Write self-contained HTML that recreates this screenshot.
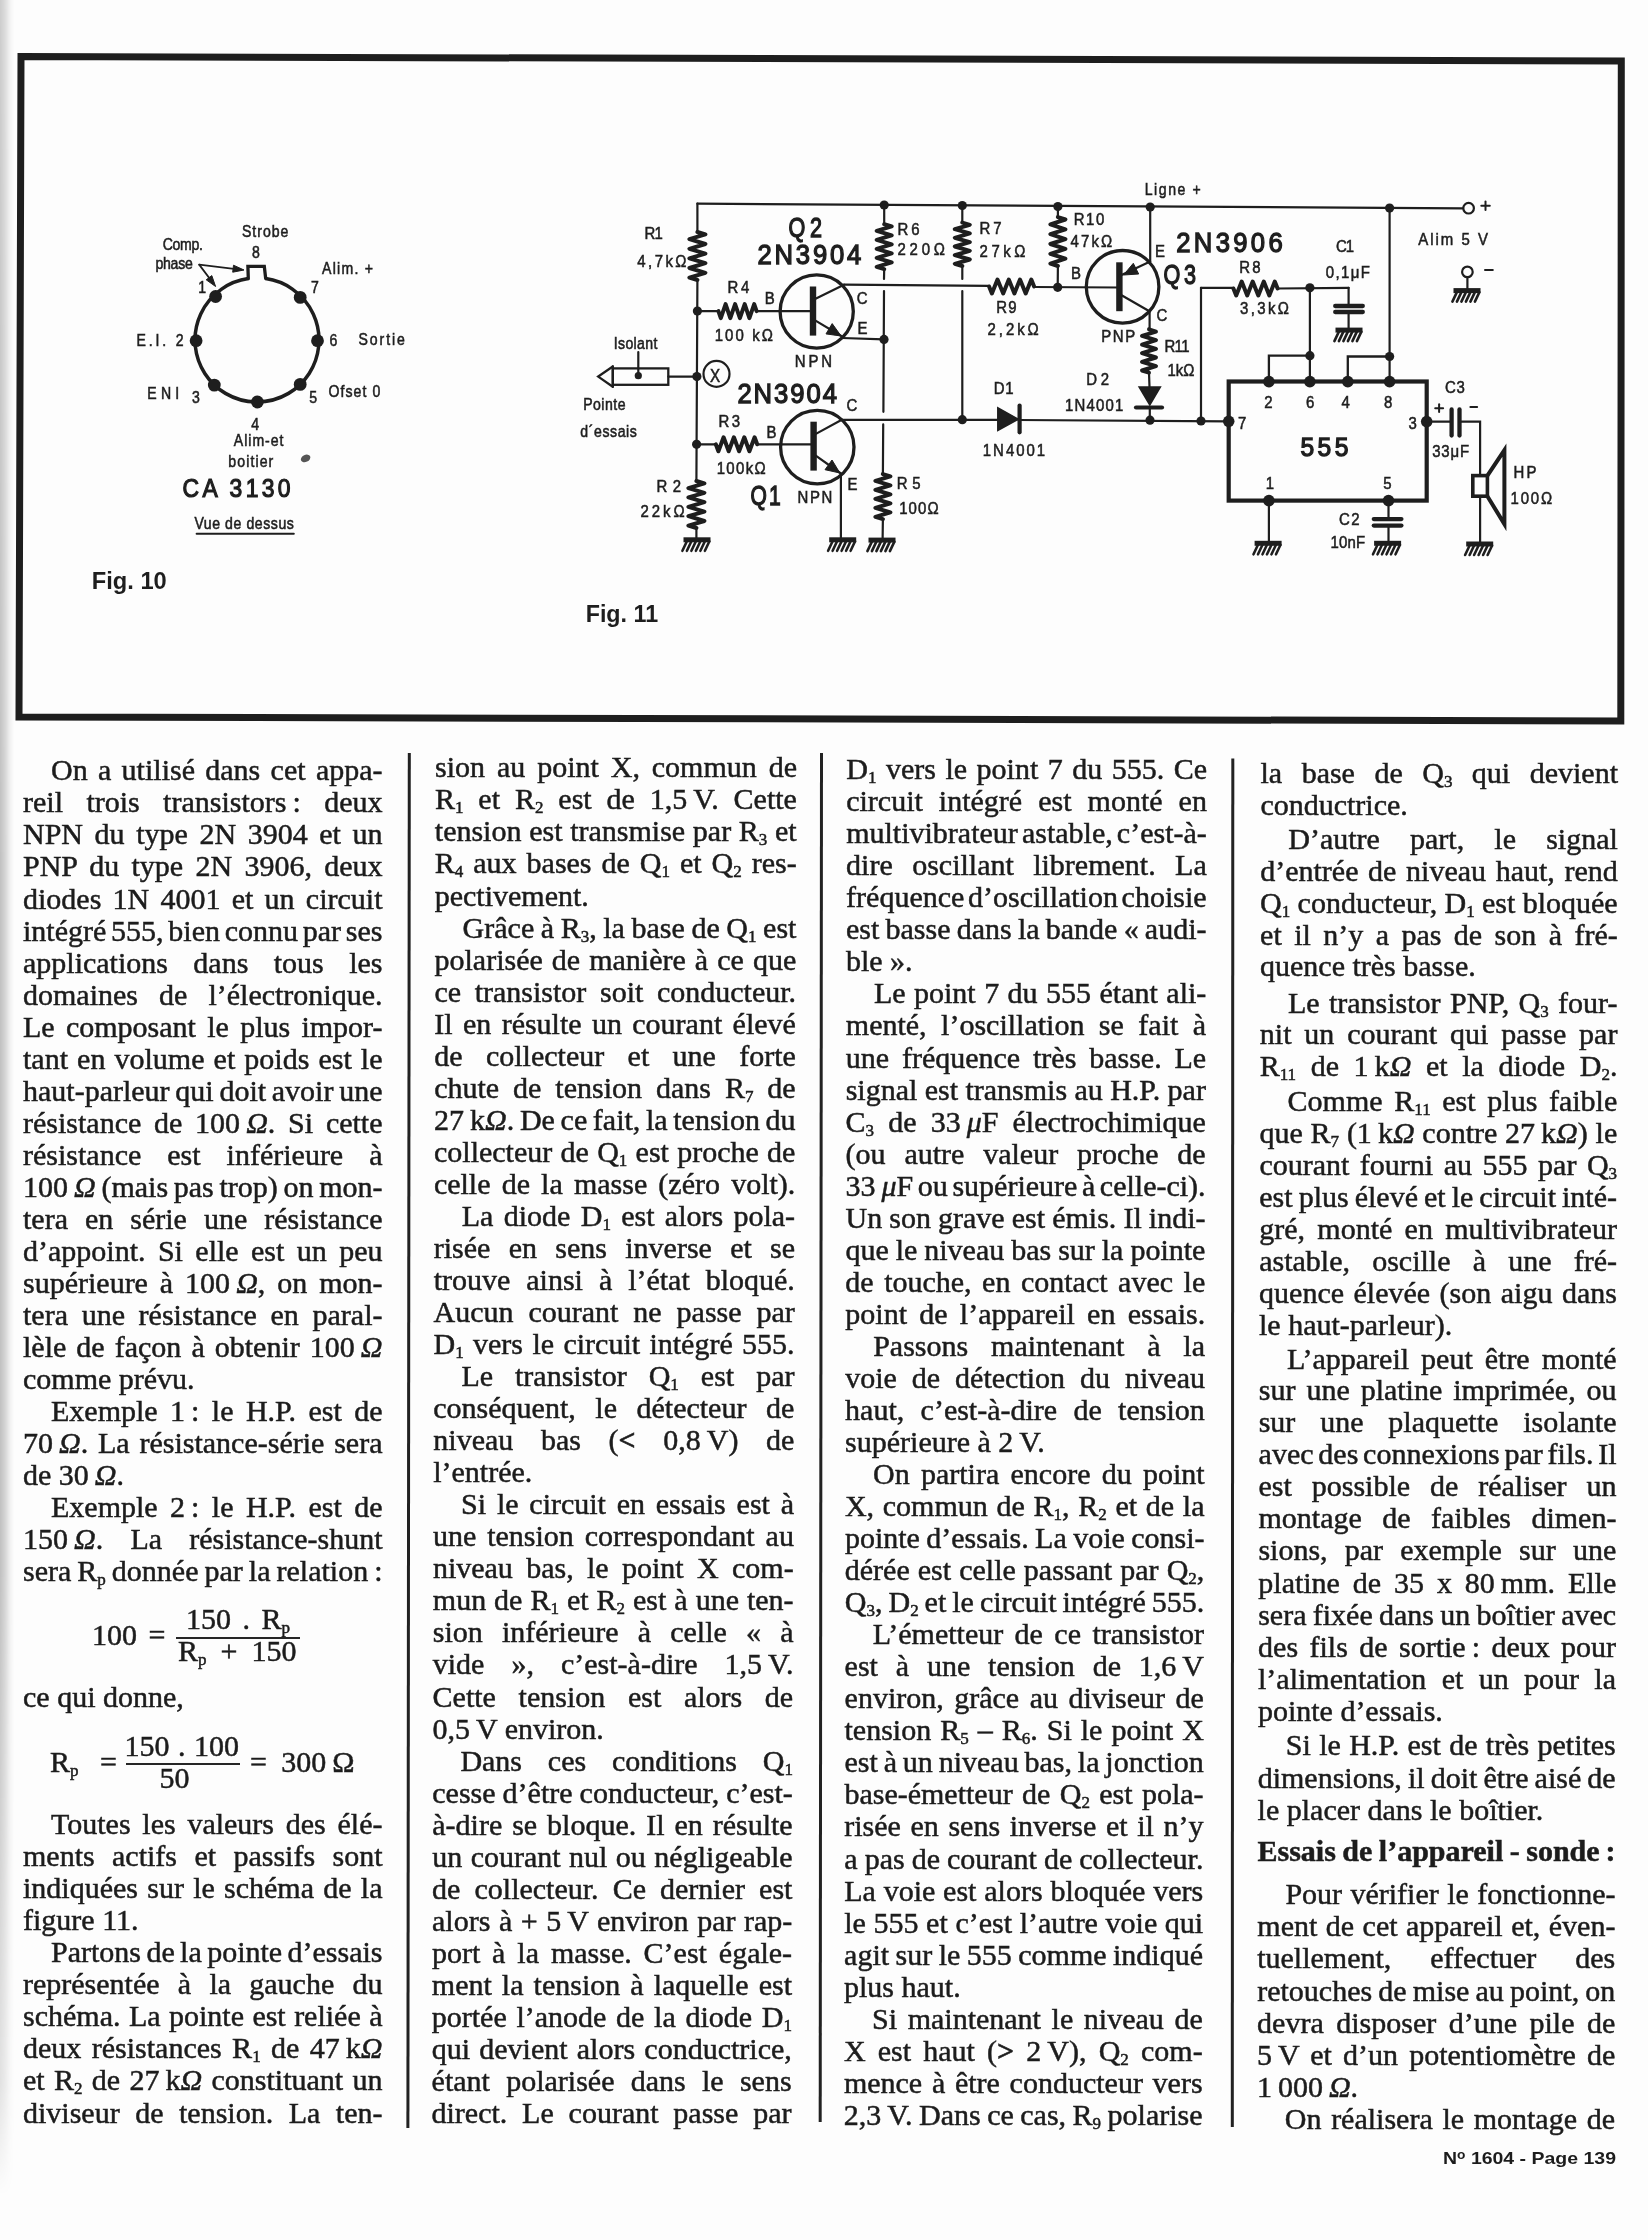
<!DOCTYPE html>
<html><head><meta charset="utf-8"><title>page</title><style>
html,body{margin:0;padding:0}
body{width:1648px;height:2240px;position:relative;overflow:hidden;background:#fdfdfd;
 font-family:"Liberation Serif",serif;color:#1c1c1c}
.edge{position:absolute;left:0;top:0;width:16px;height:2240px;
 background:linear-gradient(to right,rgba(0,0,0,.24) 0px,rgba(0,0,0,.16) 5px,rgba(0,0,0,.05) 10px,rgba(0,0,0,0) 14px);
 -webkit-mask-image:linear-gradient(to bottom,rgba(0,0,0,.8) 0%,#000 40%,#000 70%,rgba(0,0,0,.45) 93%,rgba(0,0,0,0) 98%)}
.ln{position:absolute;white-space:nowrap;font-size:30px;line-height:32px;-webkit-text-stroke:0.5px #1c1c1c}
.ln sub{font-size:17px;vertical-align:-4px;line-height:0}
.hd{font-weight:bold}
.fm{position:absolute;white-space:nowrap;font-size:30px;line-height:32px;-webkit-text-stroke:0.5px #1c1c1c}
.fm sub{font-size:17px;vertical-align:-4px;line-height:0}
.rule{position:absolute;background:#262626}
svg{position:absolute;left:0;top:0}
.tl{position:absolute;left:0;top:0;width:1648px;height:2240px;will-change:transform}
</style></head>
<body>
<div class="edge"></div>
<div class="tl">
<svg width="1648" height="2240" viewBox="0 0 1648 2240">
<path d="M21,56.5 L1621.3,61 L1620.8,721 L19,717 Z" fill="none" stroke="#1e1e1e" stroke-width="7" stroke-linejoin="miter"/>
<line x1="409.3" y1="753" x2="407.9" y2="2128" stroke="#222" stroke-width="3"/><line x1="821.5" y1="753" x2="820.2" y2="2122" stroke="#222" stroke-width="3"/><line x1="1232.8" y1="758.5" x2="1232.3" y2="2127" stroke="#222" stroke-width="3"/>
<path d="M248.3,278.6 A62.0,62.0 0 1 0 265.7,278.6" fill="none" stroke="#1e1e1e" stroke-width="3.5"/><path d="M248.3,278.6 L247.9,266.4 L264.3,266.4 L265.7,278.6" fill="none" stroke="#1e1e1e" stroke-width="3.3" stroke-linejoin="miter" stroke-linecap="round"/><circle cx="215.6" cy="296.5" r="6.4" fill="#1e1e1e"/><circle cx="196.1" cy="340.7" r="6.4" fill="#1e1e1e"/><circle cx="214.3" cy="385.1" r="6.4" fill="#1e1e1e"/><circle cx="257.4" cy="402.0" r="6.4" fill="#1e1e1e"/><circle cx="300.2" cy="384.4" r="6.4" fill="#1e1e1e"/><circle cx="317.5" cy="340.7" r="6.4" fill="#1e1e1e"/><circle cx="300.2" cy="297.4" r="6.4" fill="#1e1e1e"/><text transform="translate(242.0,237.3) scale(0.88,1)" x="0" y="0" font-family="Liberation Sans" font-size="16" fill="#1e1e1e" stroke="#1e1e1e" stroke-width="0.55" textLength="52.7" lengthAdjust="spacing">Strobe</text><text transform="translate(252.0,258.2) scale(0.88,1)" x="0" y="0" font-family="Liberation Sans" font-size="16" fill="#1e1e1e" stroke="#1e1e1e" stroke-width="0.55" textLength="10.2" lengthAdjust="spacing">8</text><text transform="translate(162.8,250.0) scale(0.88,1)" x="0" y="0" font-family="Liberation Sans" font-size="16" fill="#1e1e1e" stroke="#1e1e1e" stroke-width="0.55" textLength="45.5" lengthAdjust="spacing">Comp.</text><text transform="translate(155.5,269.2) scale(0.88,1)" x="0" y="0" font-family="Liberation Sans" font-size="16" fill="#1e1e1e" stroke="#1e1e1e" stroke-width="0.55" textLength="42.4" lengthAdjust="spacing">phase</text><text transform="translate(198.3,292.8) scale(0.88,1)" x="0" y="0" font-family="Liberation Sans" font-size="16" fill="#1e1e1e" stroke="#1e1e1e" stroke-width="0.55" textLength="7.6" lengthAdjust="spacing">1</text><text transform="translate(311.0,292.8) scale(0.88,1)" x="0" y="0" font-family="Liberation Sans" font-size="16" fill="#1e1e1e" stroke="#1e1e1e" stroke-width="0.55" textLength="9.8" lengthAdjust="spacing">7</text><text transform="translate(322.0,273.7) scale(0.88,1)" x="0" y="0" font-family="Liberation Sans" font-size="16" fill="#1e1e1e" stroke="#1e1e1e" stroke-width="0.55" textLength="58.0" lengthAdjust="spacing">Alim. +</text><text transform="translate(136.4,345.6) scale(0.88,1)" x="0" y="0" font-family="Liberation Sans" font-size="16" fill="#1e1e1e" stroke="#1e1e1e" stroke-width="0.55" textLength="53.7" lengthAdjust="spacing">E.I. 2</text><text transform="translate(329.4,345.6) scale(0.88,1)" x="0" y="0" font-family="Liberation Sans" font-size="16" fill="#1e1e1e" stroke="#1e1e1e" stroke-width="0.55" textLength="10.9" lengthAdjust="spacing">6</text><text transform="translate(358.5,344.7) scale(0.88,1)" x="0" y="0" font-family="Liberation Sans" font-size="16" fill="#1e1e1e" stroke="#1e1e1e" stroke-width="0.55" textLength="52.7" lengthAdjust="spacing">Sortie</text><text transform="translate(147.3,399.3) scale(0.88,1)" x="0" y="0" font-family="Liberation Sans" font-size="16" fill="#1e1e1e" stroke="#1e1e1e" stroke-width="0.55" textLength="36.2" lengthAdjust="spacing">ENI</text><text transform="translate(191.9,403.0) scale(0.88,1)" x="0" y="0" font-family="Liberation Sans" font-size="16" fill="#1e1e1e" stroke="#1e1e1e" stroke-width="0.55" textLength="9.2" lengthAdjust="spacing">3</text><text transform="translate(309.3,403.0) scale(0.88,1)" x="0" y="0" font-family="Liberation Sans" font-size="16" fill="#1e1e1e" stroke="#1e1e1e" stroke-width="0.55" textLength="9.9" lengthAdjust="spacing">5</text><text transform="translate(328.4,396.6) scale(0.88,1)" x="0" y="0" font-family="Liberation Sans" font-size="16" fill="#1e1e1e" stroke="#1e1e1e" stroke-width="0.55" textLength="59.0" lengthAdjust="spacing">Ofset 0</text><text transform="translate(251.2,430.0) scale(0.88,1)" x="0" y="0" font-family="Liberation Sans" font-size="16" fill="#1e1e1e" stroke="#1e1e1e" stroke-width="0.55" textLength="9.9" lengthAdjust="spacing">4</text><text transform="translate(233.8,445.8) scale(0.88,1)" x="0" y="0" font-family="Liberation Sans" font-size="16" fill="#1e1e1e" stroke="#1e1e1e" stroke-width="0.55" textLength="56.5" lengthAdjust="spacing">Alim-et</text><text transform="translate(228.3,467.0) scale(0.88,1)" x="0" y="0" font-family="Liberation Sans" font-size="16" fill="#1e1e1e" stroke="#1e1e1e" stroke-width="0.55" textLength="51.1" lengthAdjust="spacing">boitier</text><text transform="translate(194.4,529.4) scale(0.88,1)" x="0" y="0" font-family="Liberation Sans" font-size="16" fill="#1e1e1e" stroke="#1e1e1e" stroke-width="0.55" textLength="113.0" lengthAdjust="spacing">Vue  de dessus</text><line x1="196.6" y1="533.8" x2="293.8" y2="533.8" stroke="#1e1e1e" stroke-width="2" stroke-linecap="round"/><text transform="translate(182.6,497.0) scale(0.88,1)" x="0" y="0" font-family="Liberation Sans" font-size="26" fill="#1e1e1e" stroke="#1e1e1e" stroke-width="1.2" textLength="122.7" lengthAdjust="spacing">CA 3130</text><text x="91.8" y="589.3" font-family="Liberation Sans" font-size="23" font-weight="bold" fill="#1e1e1e" textLength="75.0" lengthAdjust="spacingAndGlyphs">Fig. 10</text><line x1="199.2" y1="264.6" x2="240.0" y2="269.6" stroke="#1e1e1e" stroke-width="1.8" stroke-linecap="round"/><path d="M244.0,270.0 L232.7,272.2 L233.5,265.2 Z" fill="#1e1e1e" stroke="#1e1e1e" stroke-width="1"/><line x1="199.2" y1="264.6" x2="213.0" y2="283.0" stroke="#1e1e1e" stroke-width="1.8" stroke-linecap="round"/><path d="M215.6,286.5 L206.2,279.8 L211.8,275.6 Z" fill="#1e1e1e" stroke="#1e1e1e" stroke-width="1"/><ellipse cx="305.6" cy="458.4" rx="5" ry="3.5" fill="#555" transform="rotate(-25 305.6 458.4)"/><line x1="697.4" y1="203.7" x2="1463.0" y2="208.3" stroke="#1e1e1e" stroke-width="2.3" stroke-linecap="round"/><line x1="697.4" y1="203.7" x2="697.4" y2="232.0" stroke="#1e1e1e" stroke-width="2.2" stroke-linecap="round"/><path d="M697.4,232.0 L705.4,234.4 L689.4,239.2 L705.4,244.0 L689.4,248.8 L705.4,253.6 L689.4,258.4 L705.4,263.2 L689.4,268.0 L705.4,272.8 L689.4,277.6 L697.4,280.0" fill="none" stroke="#1e1e1e" stroke-width="4.0" stroke-linejoin="round" stroke-linecap="round"/><line x1="697.4" y1="280.0" x2="696.4" y2="481.0" stroke="#1e1e1e" stroke-width="2.2" stroke-linecap="round"/><path d="M696.4,481.0 L704.4,483.4 L688.4,488.1 L704.4,492.8 L688.4,497.4 L704.4,502.1 L688.4,506.9 L704.4,511.6 L688.4,516.2 L704.4,521.0 L688.4,525.6 L696.4,528.0" fill="none" stroke="#1e1e1e" stroke-width="4.0" stroke-linejoin="round" stroke-linecap="round"/><line x1="696.4" y1="528.0" x2="696.4" y2="539.0" stroke="#1e1e1e" stroke-width="2.2" stroke-linecap="round"/><rect x="683.5" y="537.3" width="27.0" height="5.0" fill="#1e1e1e"/><line x1="686.9" y1="541.3" x2="682.4" y2="550.8" stroke="#1e1e1e" stroke-width="2.6" stroke-linecap="round"/><line x1="691.4" y1="541.3" x2="686.9" y2="550.8" stroke="#1e1e1e" stroke-width="2.6" stroke-linecap="round"/><line x1="695.9" y1="541.3" x2="691.4" y2="550.8" stroke="#1e1e1e" stroke-width="2.6" stroke-linecap="round"/><line x1="700.4" y1="541.3" x2="695.9" y2="550.8" stroke="#1e1e1e" stroke-width="2.6" stroke-linecap="round"/><line x1="704.9" y1="541.3" x2="700.4" y2="550.8" stroke="#1e1e1e" stroke-width="2.6" stroke-linecap="round"/><line x1="709.4" y1="541.3" x2="704.9" y2="550.8" stroke="#1e1e1e" stroke-width="2.6" stroke-linecap="round"/><circle cx="697.4" cy="311.1" r="4.6" fill="#1e1e1e"/><circle cx="696.9" cy="376.6" r="4.6" fill="#1e1e1e"/><circle cx="696.6" cy="444.3" r="4.6" fill="#1e1e1e"/><line x1="697.4" y1="311.1" x2="718.4" y2="311.1" stroke="#1e1e1e" stroke-width="2.2" stroke-linecap="round"/><path d="M718.4,311.1 L720.8,318.1 L725.6,304.1 L730.3,318.1 L735.1,304.1 L739.9,318.1 L744.7,304.1 L749.4,318.1 L754.2,304.1 L756.6,311.1" fill="none" stroke="#1e1e1e" stroke-width="4.0" stroke-linejoin="round" stroke-linecap="round"/><line x1="756.6" y1="311.1" x2="813.0" y2="311.1" stroke="#1e1e1e" stroke-width="2.2" stroke-linecap="round"/><circle cx="816.7" cy="311.5" r="36.6" fill="none" stroke="#1e1e1e" stroke-width="3.3"/><rect x="809.8" y="286.5" width="6.4" height="49.1" fill="#1e1e1e"/><line x1="813.0" y1="300.1" x2="844.0" y2="284.7" stroke="#1e1e1e" stroke-width="2.2" stroke-linecap="round"/><line x1="813.0" y1="319.1" x2="842.1" y2="336.5" stroke="#1e1e1e" stroke-width="2.2" stroke-linecap="round"/><path d="M841.1,336.0 L826.0,333.9 L832.2,323.6 Z" fill="#1e1e1e" stroke="#1e1e1e" stroke-width="1"/><line x1="844.0" y1="284.7" x2="989.1" y2="285.8" stroke="#1e1e1e" stroke-width="2.2" stroke-linecap="round"/><path d="M989.1,286.5 L991.9,293.5 L997.5,279.5 L1003.2,293.5 L1008.8,279.5 L1014.4,293.5 L1020.0,279.5 L1025.7,293.5 L1031.3,279.5 L1034.1,286.5" fill="none" stroke="#1e1e1e" stroke-width="4.0" stroke-linejoin="round" stroke-linecap="round"/><line x1="1034.1" y1="287.0" x2="1119.4" y2="287.5" stroke="#1e1e1e" stroke-width="2.2" stroke-linecap="round"/><circle cx="1057.7" cy="287.3" r="4.6" fill="#1e1e1e"/><line x1="842.1" y1="338.0" x2="884.0" y2="339.4" stroke="#1e1e1e" stroke-width="2.2" stroke-linecap="round"/><circle cx="884.0" cy="339.4" r="4.6" fill="#1e1e1e"/><circle cx="884.2" cy="205.0" r="4.6" fill="#1e1e1e"/><line x1="884.2" y1="205.0" x2="884.2" y2="224.2" stroke="#1e1e1e" stroke-width="2.2" stroke-linecap="round"/><path d="M884.2,224.2 L891.7,226.4 L876.7,230.9 L891.7,235.4 L876.7,239.9 L891.7,244.4 L876.7,248.9 L891.7,253.4 L876.7,257.9 L891.7,262.4 L876.7,266.9 L884.2,269.1" fill="none" stroke="#1e1e1e" stroke-width="4.0" stroke-linejoin="round" stroke-linecap="round"/><line x1="884.2" y1="269.1" x2="884.0" y2="279.0" stroke="#1e1e1e" stroke-width="2.2" stroke-linecap="round"/><line x1="884.0" y1="291.0" x2="883.4" y2="411.8" stroke="#1e1e1e" stroke-width="2.2" stroke-linecap="round"/><line x1="883.2" y1="424.4" x2="882.9" y2="474.1" stroke="#1e1e1e" stroke-width="2.2" stroke-linecap="round"/><path d="M882.9,474.1 L890.4,476.4 L875.4,480.9 L890.4,485.4 L875.4,489.9 L890.4,494.4 L875.4,498.9 L890.4,503.4 L875.4,507.9 L890.4,512.4 L875.4,516.9 L882.9,519.1" fill="none" stroke="#1e1e1e" stroke-width="4.0" stroke-linejoin="round" stroke-linecap="round"/><line x1="882.9" y1="519.1" x2="882.6" y2="539.6" stroke="#1e1e1e" stroke-width="2.2" stroke-linecap="round"/><rect x="868.5" y="537.6" width="27.0" height="5.0" fill="#1e1e1e"/><line x1="871.9" y1="541.6" x2="867.4" y2="551.1" stroke="#1e1e1e" stroke-width="2.6" stroke-linecap="round"/><line x1="876.4" y1="541.6" x2="871.9" y2="551.1" stroke="#1e1e1e" stroke-width="2.6" stroke-linecap="round"/><line x1="880.9" y1="541.6" x2="876.4" y2="551.1" stroke="#1e1e1e" stroke-width="2.6" stroke-linecap="round"/><line x1="885.4" y1="541.6" x2="880.9" y2="551.1" stroke="#1e1e1e" stroke-width="2.6" stroke-linecap="round"/><line x1="889.9" y1="541.6" x2="885.4" y2="551.1" stroke="#1e1e1e" stroke-width="2.6" stroke-linecap="round"/><line x1="894.4" y1="541.6" x2="889.9" y2="551.1" stroke="#1e1e1e" stroke-width="2.6" stroke-linecap="round"/><circle cx="962.3" cy="205.5" r="4.6" fill="#1e1e1e"/><line x1="962.3" y1="205.5" x2="962.3" y2="222.6" stroke="#1e1e1e" stroke-width="2.2" stroke-linecap="round"/><path d="M962.3,222.6 L969.8,224.8 L954.8,229.1 L969.8,233.4 L954.8,237.8 L969.8,242.1 L954.8,246.5 L969.8,250.8 L954.8,255.2 L969.8,259.5 L954.8,263.8 L962.3,266.0" fill="none" stroke="#1e1e1e" stroke-width="4.0" stroke-linejoin="round" stroke-linecap="round"/><line x1="962.3" y1="266.0" x2="962.3" y2="279.0" stroke="#1e1e1e" stroke-width="2.2" stroke-linecap="round"/><line x1="962.3" y1="291.0" x2="962.3" y2="419.7" stroke="#1e1e1e" stroke-width="2.2" stroke-linecap="round"/><circle cx="962.3" cy="419.7" r="4.6" fill="#1e1e1e"/><circle cx="1057.9" cy="206.5" r="4.6" fill="#1e1e1e"/><line x1="1057.9" y1="206.5" x2="1057.9" y2="217.1" stroke="#1e1e1e" stroke-width="2.2" stroke-linecap="round"/><path d="M1057.9,217.1 L1065.4,219.5 L1050.4,224.4 L1065.4,229.3 L1050.4,234.2 L1065.4,239.1 L1050.4,244.0 L1065.4,248.9 L1050.4,253.8 L1065.4,258.7 L1050.4,263.6 L1057.9,266.0" fill="none" stroke="#1e1e1e" stroke-width="4.0" stroke-linejoin="round" stroke-linecap="round"/><line x1="1057.9" y1="266.0" x2="1057.7" y2="287.3" stroke="#1e1e1e" stroke-width="2.2" stroke-linecap="round"/><circle cx="1122.6" cy="286.8" r="36.3" fill="none" stroke="#1e1e1e" stroke-width="3.3"/><rect x="1116.2" y="262.3" width="6.4" height="48.9" fill="#1e1e1e"/><line x1="1119.4" y1="276.0" x2="1150.2" y2="261.5" stroke="#1e1e1e" stroke-width="2.2" stroke-linecap="round"/><path d="M1123.5,275.0 L1133.3,263.3 L1138.7,274.0 Z" fill="#1e1e1e" stroke="#1e1e1e" stroke-width="1"/><line x1="1119.4" y1="294.0" x2="1149.4" y2="311.2" stroke="#1e1e1e" stroke-width="2.2" stroke-linecap="round"/><circle cx="1150.2" cy="207.1" r="4.6" fill="#1e1e1e"/><line x1="1150.2" y1="207.1" x2="1150.2" y2="261.5" stroke="#1e1e1e" stroke-width="2.2" stroke-linecap="round"/><line x1="1149.6" y1="311.2" x2="1149.6" y2="329.4" stroke="#1e1e1e" stroke-width="2.2" stroke-linecap="round"/><path d="M1149.0,329.4 L1156.0,331.6 L1142.0,335.9 L1156.0,340.2 L1142.0,344.6 L1156.0,348.9 L1142.0,353.2 L1156.0,357.5 L1142.0,361.9 L1156.0,366.2 L1142.0,370.5 L1149.0,372.7" fill="none" stroke="#1e1e1e" stroke-width="4.0" stroke-linejoin="round" stroke-linecap="round"/><line x1="1149.0" y1="372.7" x2="1149.5" y2="386.9" stroke="#1e1e1e" stroke-width="2.2" stroke-linecap="round"/><path d="M1139.1,386.9 L1160.4,386.9 L1149.8,405.1 Z" fill="#1e1e1e" stroke="#1e1e1e" stroke-width="1.5" stroke-linejoin="miter" stroke-linecap="round"/><line x1="1136.0" y1="407.5" x2="1162.0" y2="407.5" stroke="#1e1e1e" stroke-width="4.2" stroke-linecap="round"/><line x1="1149.8" y1="407.5" x2="1149.8" y2="420.1" stroke="#1e1e1e" stroke-width="2.2" stroke-linecap="round"/><circle cx="1150.0" cy="420.2" r="4.6" fill="#1e1e1e"/><line x1="696.6" y1="444.3" x2="715.8" y2="444.3" stroke="#1e1e1e" stroke-width="2.2" stroke-linecap="round"/><path d="M715.8,444.3 L718.4,451.3 L723.6,437.3 L728.7,451.3 L733.9,437.3 L739.1,451.3 L744.3,437.3 L749.4,451.3 L754.6,437.3 L757.2,444.3" fill="none" stroke="#1e1e1e" stroke-width="4.0" stroke-linejoin="round" stroke-linecap="round"/><line x1="757.2" y1="444.3" x2="813.6" y2="444.3" stroke="#1e1e1e" stroke-width="2.2" stroke-linecap="round"/><circle cx="817.3" cy="447.1" r="36.7" fill="none" stroke="#1e1e1e" stroke-width="3.3"/><rect x="810.4" y="421.7" width="6.4" height="48.9" fill="#1e1e1e"/><line x1="813.6" y1="435.1" x2="841.8" y2="419.8" stroke="#1e1e1e" stroke-width="2.2" stroke-linecap="round"/><line x1="813.6" y1="454.1" x2="840.9" y2="473.5" stroke="#1e1e1e" stroke-width="2.2" stroke-linecap="round"/><path d="M839.9,473.0 L825.0,469.7 L832.0,460.0 Z" fill="#1e1e1e" stroke="#1e1e1e" stroke-width="1"/><line x1="841.8" y1="419.8" x2="997.8" y2="419.8" stroke="#1e1e1e" stroke-width="2.2" stroke-linecap="round"/><line x1="840.9" y1="473.5" x2="840.9" y2="539.3" stroke="#1e1e1e" stroke-width="2.2" stroke-linecap="round"/><rect x="829.2" y="537.3" width="27.0" height="5.0" fill="#1e1e1e"/><line x1="832.6" y1="541.3" x2="828.1" y2="550.8" stroke="#1e1e1e" stroke-width="2.6" stroke-linecap="round"/><line x1="837.1" y1="541.3" x2="832.6" y2="550.8" stroke="#1e1e1e" stroke-width="2.6" stroke-linecap="round"/><line x1="841.6" y1="541.3" x2="837.1" y2="550.8" stroke="#1e1e1e" stroke-width="2.6" stroke-linecap="round"/><line x1="846.1" y1="541.3" x2="841.6" y2="550.8" stroke="#1e1e1e" stroke-width="2.6" stroke-linecap="round"/><line x1="850.6" y1="541.3" x2="846.1" y2="550.8" stroke="#1e1e1e" stroke-width="2.6" stroke-linecap="round"/><line x1="855.1" y1="541.3" x2="850.6" y2="550.8" stroke="#1e1e1e" stroke-width="2.6" stroke-linecap="round"/><path d="M997.8,407.8 L997.8,430.5 L1018.3,419.2 Z" fill="#1e1e1e" stroke="#1e1e1e" stroke-width="1.5" stroke-linejoin="miter" stroke-linecap="round"/><line x1="1019.6" y1="405.5" x2="1019.6" y2="432.3" stroke="#1e1e1e" stroke-width="4.2" stroke-linecap="round"/><line x1="1018.3" y1="420.0" x2="1227.5" y2="421.3" stroke="#1e1e1e" stroke-width="2.2" stroke-linecap="round"/><circle cx="1201.0" cy="421.0" r="4.6" fill="#1e1e1e"/><line x1="1201.0" y1="421.0" x2="1201.0" y2="287.8" stroke="#1e1e1e" stroke-width="2.2" stroke-linecap="round"/><line x1="1201.0" y1="287.8" x2="1233.4" y2="287.8" stroke="#1e1e1e" stroke-width="2.2" stroke-linecap="round"/><path d="M1233.4,288.5 L1236.2,295.5 L1241.7,281.5 L1247.2,295.5 L1252.7,281.5 L1258.3,295.5 L1263.8,281.5 L1269.3,295.5 L1274.8,281.5 L1277.6,288.5" fill="none" stroke="#1e1e1e" stroke-width="4.0" stroke-linejoin="round" stroke-linecap="round"/><line x1="1277.6" y1="288.5" x2="1348.6" y2="287.8" stroke="#1e1e1e" stroke-width="2.2" stroke-linecap="round"/><circle cx="1309.9" cy="287.8" r="4.6" fill="#1e1e1e"/><line x1="1348.6" y1="287.8" x2="1348.6" y2="306.0" stroke="#1e1e1e" stroke-width="2.2" stroke-linecap="round"/><line x1="1335.2" y1="306.0" x2="1362.8" y2="306.0" stroke="#1e1e1e" stroke-width="4.3" stroke-linecap="round"/><line x1="1335.2" y1="312.0" x2="1362.8" y2="312.0" stroke="#1e1e1e" stroke-width="4.3" stroke-linecap="round"/><line x1="1348.6" y1="312.0" x2="1348.6" y2="329.6" stroke="#1e1e1e" stroke-width="2.2" stroke-linecap="round"/><rect x="1335.5" y="327.6" width="27.0" height="5.0" fill="#1e1e1e"/><line x1="1338.9" y1="331.6" x2="1334.4" y2="341.1" stroke="#1e1e1e" stroke-width="2.6" stroke-linecap="round"/><line x1="1343.4" y1="331.6" x2="1338.9" y2="341.1" stroke="#1e1e1e" stroke-width="2.6" stroke-linecap="round"/><line x1="1347.9" y1="331.6" x2="1343.4" y2="341.1" stroke="#1e1e1e" stroke-width="2.6" stroke-linecap="round"/><line x1="1352.4" y1="331.6" x2="1347.9" y2="341.1" stroke="#1e1e1e" stroke-width="2.6" stroke-linecap="round"/><line x1="1356.9" y1="331.6" x2="1352.4" y2="341.1" stroke="#1e1e1e" stroke-width="2.6" stroke-linecap="round"/><line x1="1361.4" y1="331.6" x2="1356.9" y2="341.1" stroke="#1e1e1e" stroke-width="2.6" stroke-linecap="round"/><line x1="1309.9" y1="287.8" x2="1309.9" y2="381.7" stroke="#1e1e1e" stroke-width="2.2" stroke-linecap="round"/><circle cx="1309.9" cy="355.7" r="4.6" fill="#1e1e1e"/><path d="M1309.9,355.7 L1268.9,355.7 L1268.9,381.7" fill="none" stroke="#1e1e1e" stroke-width="2.3" stroke-linejoin="miter" stroke-linecap="round"/><circle cx="1389.6" cy="208.1" r="4.6" fill="#1e1e1e"/><line x1="1389.6" y1="208.1" x2="1389.6" y2="381.7" stroke="#1e1e1e" stroke-width="2.2" stroke-linecap="round"/><circle cx="1389.6" cy="356.5" r="4.6" fill="#1e1e1e"/><path d="M1389.6,356.5 L1347.8,356.5 L1347.8,381.7" fill="none" stroke="#1e1e1e" stroke-width="2.3" stroke-linejoin="miter" stroke-linecap="round"/><rect x="1228.7" y="381.5" width="198.0" height="119.1" fill="none" stroke="#1e1e1e" stroke-width="4.2"/><circle cx="1268.9" cy="381.6" r="5.8" fill="#1e1e1e"/><circle cx="1309.9" cy="381.6" r="5.8" fill="#1e1e1e"/><circle cx="1347.8" cy="381.6" r="5.8" fill="#1e1e1e"/><circle cx="1389.6" cy="381.6" r="5.8" fill="#1e1e1e"/><circle cx="1228.7" cy="421.3" r="5.8" fill="#1e1e1e"/><circle cx="1426.7" cy="421.6" r="5.8" fill="#1e1e1e"/><circle cx="1268.9" cy="500.6" r="5.8" fill="#1e1e1e"/><circle cx="1388.5" cy="500.6" r="5.8" fill="#1e1e1e"/><line x1="1268.9" y1="500.6" x2="1268.9" y2="542.8" stroke="#1e1e1e" stroke-width="2.2" stroke-linecap="round"/><rect x="1254.6" y="540.8" width="27.0" height="5.0" fill="#1e1e1e"/><line x1="1258.0" y1="544.8" x2="1253.5" y2="554.3" stroke="#1e1e1e" stroke-width="2.6" stroke-linecap="round"/><line x1="1262.5" y1="544.8" x2="1258.0" y2="554.3" stroke="#1e1e1e" stroke-width="2.6" stroke-linecap="round"/><line x1="1267.0" y1="544.8" x2="1262.5" y2="554.3" stroke="#1e1e1e" stroke-width="2.6" stroke-linecap="round"/><line x1="1271.5" y1="544.8" x2="1267.0" y2="554.3" stroke="#1e1e1e" stroke-width="2.6" stroke-linecap="round"/><line x1="1276.0" y1="544.8" x2="1271.5" y2="554.3" stroke="#1e1e1e" stroke-width="2.6" stroke-linecap="round"/><line x1="1280.5" y1="544.8" x2="1276.0" y2="554.3" stroke="#1e1e1e" stroke-width="2.6" stroke-linecap="round"/><line x1="1388.5" y1="500.6" x2="1388.5" y2="519.1" stroke="#1e1e1e" stroke-width="2.2" stroke-linecap="round"/><line x1="1373.8" y1="519.1" x2="1401.4" y2="519.1" stroke="#1e1e1e" stroke-width="4.3" stroke-linecap="round"/><line x1="1373.8" y1="525.6" x2="1401.4" y2="525.6" stroke="#1e1e1e" stroke-width="4.3" stroke-linecap="round"/><line x1="1388.5" y1="525.6" x2="1388.5" y2="542.8" stroke="#1e1e1e" stroke-width="2.2" stroke-linecap="round"/><rect x="1374.1" y="540.8" width="27.0" height="5.0" fill="#1e1e1e"/><line x1="1377.5" y1="544.8" x2="1373.0" y2="554.3" stroke="#1e1e1e" stroke-width="2.6" stroke-linecap="round"/><line x1="1382.0" y1="544.8" x2="1377.5" y2="554.3" stroke="#1e1e1e" stroke-width="2.6" stroke-linecap="round"/><line x1="1386.5" y1="544.8" x2="1382.0" y2="554.3" stroke="#1e1e1e" stroke-width="2.6" stroke-linecap="round"/><line x1="1391.0" y1="544.8" x2="1386.5" y2="554.3" stroke="#1e1e1e" stroke-width="2.6" stroke-linecap="round"/><line x1="1395.5" y1="544.8" x2="1391.0" y2="554.3" stroke="#1e1e1e" stroke-width="2.6" stroke-linecap="round"/><line x1="1400.0" y1="544.8" x2="1395.5" y2="554.3" stroke="#1e1e1e" stroke-width="2.6" stroke-linecap="round"/><line x1="1426.7" y1="421.6" x2="1451.6" y2="421.6" stroke="#1e1e1e" stroke-width="2.2" stroke-linecap="round"/><line x1="1451.6" y1="409.4" x2="1451.6" y2="435.5" stroke="#1e1e1e" stroke-width="4.3" stroke-linecap="round"/><line x1="1459.5" y1="409.4" x2="1459.5" y2="435.5" stroke="#1e1e1e" stroke-width="4.3" stroke-linecap="round"/><path d="M1459.5,421.6 L1480.1,421.6 L1480.1,475.6" fill="none" stroke="#1e1e1e" stroke-width="2.2" stroke-linejoin="miter" stroke-linecap="round"/><rect x="1472.8" y="475.6" width="14.6" height="20.6" fill="none" stroke="#1e1e1e" stroke-width="3.6"/><path d="M1487.4,475.6 L1504.4,450.1 L1504.4,524.1 L1487.4,496.2" fill="none" stroke="#1e1e1e" stroke-width="4.0" stroke-linejoin="miter" stroke-linecap="round"/><line x1="1480.1" y1="496.2" x2="1480.1" y2="543.5" stroke="#1e1e1e" stroke-width="2.2" stroke-linecap="round"/><rect x="1466.2" y="541.5" width="27.0" height="5.0" fill="#1e1e1e"/><line x1="1469.6" y1="545.5" x2="1465.1" y2="555.0" stroke="#1e1e1e" stroke-width="2.6" stroke-linecap="round"/><line x1="1474.1" y1="545.5" x2="1469.6" y2="555.0" stroke="#1e1e1e" stroke-width="2.6" stroke-linecap="round"/><line x1="1478.6" y1="545.5" x2="1474.1" y2="555.0" stroke="#1e1e1e" stroke-width="2.6" stroke-linecap="round"/><line x1="1483.1" y1="545.5" x2="1478.6" y2="555.0" stroke="#1e1e1e" stroke-width="2.6" stroke-linecap="round"/><line x1="1487.6" y1="545.5" x2="1483.1" y2="555.0" stroke="#1e1e1e" stroke-width="2.6" stroke-linecap="round"/><line x1="1492.1" y1="545.5" x2="1487.6" y2="555.0" stroke="#1e1e1e" stroke-width="2.6" stroke-linecap="round"/><circle cx="1468.6" cy="208.2" r="5.3" fill="none" stroke="#1e1e1e" stroke-width="2.2"/><circle cx="1467.4" cy="271.9" r="5.3" fill="none" stroke="#1e1e1e" stroke-width="2.2"/><line x1="1467.4" y1="277.2" x2="1467.4" y2="290.1" stroke="#1e1e1e" stroke-width="2.2" stroke-linecap="round"/><rect x="1453.5" y="288.1" width="27.0" height="5.0" fill="#1e1e1e"/><line x1="1456.9" y1="292.1" x2="1452.4" y2="301.6" stroke="#1e1e1e" stroke-width="2.6" stroke-linecap="round"/><line x1="1461.4" y1="292.1" x2="1456.9" y2="301.6" stroke="#1e1e1e" stroke-width="2.6" stroke-linecap="round"/><line x1="1465.9" y1="292.1" x2="1461.4" y2="301.6" stroke="#1e1e1e" stroke-width="2.6" stroke-linecap="round"/><line x1="1470.4" y1="292.1" x2="1465.9" y2="301.6" stroke="#1e1e1e" stroke-width="2.6" stroke-linecap="round"/><line x1="1474.9" y1="292.1" x2="1470.4" y2="301.6" stroke="#1e1e1e" stroke-width="2.6" stroke-linecap="round"/><line x1="1479.4" y1="292.1" x2="1474.9" y2="301.6" stroke="#1e1e1e" stroke-width="2.6" stroke-linecap="round"/><rect x="612.8" y="368.4" width="55.5" height="16.4" fill="none" stroke="#1e1e1e" stroke-width="2.3"/><path d="M612.8,366.5 L598.2,376.6 L612.8,386.8" fill="none" stroke="#1e1e1e" stroke-width="2.3" stroke-linejoin="miter" stroke-linecap="round"/><line x1="612.8" y1="366.5" x2="612.8" y2="386.8" stroke="#1e1e1e" stroke-width="2.3" stroke-linecap="round"/><line x1="668.3" y1="376.6" x2="696.9" y2="376.6" stroke="#1e1e1e" stroke-width="2.2" stroke-linecap="round"/><line x1="638.3" y1="352.0" x2="638.3" y2="375.7" stroke="#1e1e1e" stroke-width="2.2" stroke-linecap="round"/><circle cx="638.3" cy="375.7" r="3.6" fill="#1e1e1e"/><circle cx="716.5" cy="373.9" r="13" fill="none" stroke="#1e1e1e" stroke-width="2.2"/><text transform="translate(710.0,382.0) scale(0.8,1)" x="0" y="0" font-family="Liberation Sans" font-size="19" fill="#1e1e1e" stroke="#1e1e1e" stroke-width="0.55" textLength="16.2" lengthAdjust="spacing">X</text><text transform="translate(644.6,239.2) scale(0.88,1)" x="0" y="0" font-family="Liberation Sans" font-size="17" fill="#1e1e1e" stroke="#1e1e1e" stroke-width="0.55" textLength="20.7" lengthAdjust="spacing">R1</text><text transform="translate(637.3,267.4) scale(0.88,1)" x="0" y="0" font-family="Liberation Sans" font-size="17" fill="#1e1e1e" stroke="#1e1e1e" stroke-width="0.55" textLength="55.9" lengthAdjust="spacing">4,7kΩ</text><text transform="translate(727.5,292.9) scale(0.88,1)" x="0" y="0" font-family="Liberation Sans" font-size="17" fill="#1e1e1e" stroke="#1e1e1e" stroke-width="0.55" textLength="24.8" lengthAdjust="spacing">R4</text><text transform="translate(714.7,341.1) scale(0.88,1)" x="0" y="0" font-family="Liberation Sans" font-size="17" fill="#1e1e1e" stroke="#1e1e1e" stroke-width="0.55" textLength="66.2" lengthAdjust="spacing">100 kΩ</text><text transform="translate(764.8,303.8) scale(0.88,1)" x="0" y="0" font-family="Liberation Sans" font-size="17" fill="#1e1e1e" stroke="#1e1e1e" stroke-width="0.55" textLength="11.4" lengthAdjust="spacing">B</text><text transform="translate(856.7,303.8) scale(0.88,1)" x="0" y="0" font-family="Liberation Sans" font-size="17" fill="#1e1e1e" stroke="#1e1e1e" stroke-width="0.55" textLength="10.6" lengthAdjust="spacing">C</text><text transform="translate(857.6,333.8) scale(0.88,1)" x="0" y="0" font-family="Liberation Sans" font-size="17" fill="#1e1e1e" stroke="#1e1e1e" stroke-width="0.55" textLength="9.5" lengthAdjust="spacing">E</text><text transform="translate(794.8,366.6) scale(0.88,1)" x="0" y="0" font-family="Liberation Sans" font-size="17" fill="#1e1e1e" stroke="#1e1e1e" stroke-width="0.55" textLength="42.4" lengthAdjust="spacing">NPN</text><text transform="translate(613.7,349.3) scale(0.88,1)" x="0" y="0" font-family="Liberation Sans" font-size="16" fill="#1e1e1e" stroke="#1e1e1e" stroke-width="0.55" textLength="49.7" lengthAdjust="spacing">Isolant</text><text transform="translate(583.2,409.5) scale(0.88,1)" x="0" y="0" font-family="Liberation Sans" font-size="16" fill="#1e1e1e" stroke="#1e1e1e" stroke-width="0.55" textLength="48.1" lengthAdjust="spacing">Pointe</text><text transform="translate(580.3,436.8) scale(0.88,1)" x="0" y="0" font-family="Liberation Sans" font-size="16" fill="#1e1e1e" stroke="#1e1e1e" stroke-width="0.55" textLength="64.2" lengthAdjust="spacing">d´essais</text><text transform="translate(846.5,411.4) scale(0.88,1)" x="0" y="0" font-family="Liberation Sans" font-size="17" fill="#1e1e1e" stroke="#1e1e1e" stroke-width="0.55" textLength="10.8" lengthAdjust="spacing">C</text><text transform="translate(718.6,427.4) scale(0.88,1)" x="0" y="0" font-family="Liberation Sans" font-size="17" fill="#1e1e1e" stroke="#1e1e1e" stroke-width="0.55" textLength="24.5" lengthAdjust="spacing">R3</text><text transform="translate(766.6,437.7) scale(0.88,1)" x="0" y="0" font-family="Liberation Sans" font-size="17" fill="#1e1e1e" stroke="#1e1e1e" stroke-width="0.55" textLength="9.5" lengthAdjust="spacing">B</text><text transform="translate(716.7,473.5) scale(0.88,1)" x="0" y="0" font-family="Liberation Sans" font-size="17" fill="#1e1e1e" stroke="#1e1e1e" stroke-width="0.55" textLength="55.6" lengthAdjust="spacing">100kΩ</text><text transform="translate(847.5,489.5) scale(0.88,1)" x="0" y="0" font-family="Liberation Sans" font-size="17" fill="#1e1e1e" stroke="#1e1e1e" stroke-width="0.55" textLength="9.7" lengthAdjust="spacing">E</text><text transform="translate(656.5,491.5) scale(0.88,1)" x="0" y="0" font-family="Liberation Sans" font-size="17" fill="#1e1e1e" stroke="#1e1e1e" stroke-width="0.55" textLength="27.8" lengthAdjust="spacing">R2</text><text transform="translate(640.5,516.7) scale(0.88,1)" x="0" y="0" font-family="Liberation Sans" font-size="17" fill="#1e1e1e" stroke="#1e1e1e" stroke-width="0.55" textLength="50.2" lengthAdjust="spacing">22kΩ</text><text transform="translate(797.6,502.6) scale(0.88,1)" x="0" y="0" font-family="Liberation Sans" font-size="17" fill="#1e1e1e" stroke="#1e1e1e" stroke-width="0.55" textLength="39.5" lengthAdjust="spacing">NPN</text><text transform="translate(897.6,235.2) scale(0.88,1)" x="0" y="0" font-family="Liberation Sans" font-size="17" fill="#1e1e1e" stroke="#1e1e1e" stroke-width="0.55" textLength="25.1" lengthAdjust="spacing">R6</text><text transform="translate(897.6,255.0) scale(0.88,1)" x="0" y="0" font-family="Liberation Sans" font-size="17" fill="#1e1e1e" stroke="#1e1e1e" stroke-width="0.55" textLength="53.7" lengthAdjust="spacing">220Ω</text><text transform="translate(979.6,233.6) scale(0.88,1)" x="0" y="0" font-family="Liberation Sans" font-size="17" fill="#1e1e1e" stroke="#1e1e1e" stroke-width="0.55" textLength="25.1" lengthAdjust="spacing">R7</text><text transform="translate(979.6,256.5) scale(0.88,1)" x="0" y="0" font-family="Liberation Sans" font-size="17" fill="#1e1e1e" stroke="#1e1e1e" stroke-width="0.55" textLength="52.0" lengthAdjust="spacing">27kΩ</text><text transform="translate(1073.7,225.2) scale(0.88,1)" x="0" y="0" font-family="Liberation Sans" font-size="17" fill="#1e1e1e" stroke="#1e1e1e" stroke-width="0.55" textLength="34.9" lengthAdjust="spacing">R10</text><text transform="translate(1070.5,247.1) scale(0.88,1)" x="0" y="0" font-family="Liberation Sans" font-size="17" fill="#1e1e1e" stroke="#1e1e1e" stroke-width="0.55" textLength="47.5" lengthAdjust="spacing">47kΩ</text><text transform="translate(996.2,312.5) scale(0.88,1)" x="0" y="0" font-family="Liberation Sans" font-size="17" fill="#1e1e1e" stroke="#1e1e1e" stroke-width="0.55" textLength="23.3" lengthAdjust="spacing">R9</text><text transform="translate(987.5,334.6) scale(0.88,1)" x="0" y="0" font-family="Liberation Sans" font-size="17" fill="#1e1e1e" stroke="#1e1e1e" stroke-width="0.55" textLength="58.3" lengthAdjust="spacing">2,2kΩ</text><text transform="translate(1071.1,279.4) scale(0.88,1)" x="0" y="0" font-family="Liberation Sans" font-size="17" fill="#1e1e1e" stroke="#1e1e1e" stroke-width="0.55" textLength="11.3" lengthAdjust="spacing">B</text><text transform="translate(1144.7,195.2) scale(0.88,1)" x="0" y="0" font-family="Liberation Sans" font-size="16" fill="#1e1e1e" stroke="#1e1e1e" stroke-width="0.55" textLength="63.6" lengthAdjust="spacing">Ligne +</text><text transform="translate(1154.9,256.8) scale(0.88,1)" x="0" y="0" font-family="Liberation Sans" font-size="17" fill="#1e1e1e" stroke="#1e1e1e" stroke-width="0.55" textLength="10.3" lengthAdjust="spacing">E</text><text transform="translate(1156.5,320.7) scale(0.88,1)" x="0" y="0" font-family="Liberation Sans" font-size="17" fill="#1e1e1e" stroke="#1e1e1e" stroke-width="0.55" textLength="10.8" lengthAdjust="spacing">C</text><text transform="translate(1101.3,342.0) scale(0.88,1)" x="0" y="0" font-family="Liberation Sans" font-size="17" fill="#1e1e1e" stroke="#1e1e1e" stroke-width="0.55" textLength="38.5" lengthAdjust="spacing">PNP</text><text transform="translate(1164.4,351.5) scale(0.88,1)" x="0" y="0" font-family="Liberation Sans" font-size="17" fill="#1e1e1e" stroke="#1e1e1e" stroke-width="0.55" textLength="28.6" lengthAdjust="spacing">R11</text><text transform="translate(1167.5,375.9) scale(0.88,1)" x="0" y="0" font-family="Liberation Sans" font-size="17" fill="#1e1e1e" stroke="#1e1e1e" stroke-width="0.55" textLength="30.6" lengthAdjust="spacing">1kΩ</text><text transform="translate(1086.3,385.4) scale(0.88,1)" x="0" y="0" font-family="Liberation Sans" font-size="17" fill="#1e1e1e" stroke="#1e1e1e" stroke-width="0.55" textLength="26.0" lengthAdjust="spacing">D2</text><text transform="translate(1065.0,410.6) scale(0.88,1)" x="0" y="0" font-family="Liberation Sans" font-size="17" fill="#1e1e1e" stroke="#1e1e1e" stroke-width="0.55" textLength="66.4" lengthAdjust="spacing">1N4001</text><text transform="translate(993.8,394.4) scale(0.88,1)" x="0" y="0" font-family="Liberation Sans" font-size="17" fill="#1e1e1e" stroke="#1e1e1e" stroke-width="0.55" textLength="22.5" lengthAdjust="spacing">D1</text><text transform="translate(982.8,456.0) scale(0.88,1)" x="0" y="0" font-family="Liberation Sans" font-size="17" fill="#1e1e1e" stroke="#1e1e1e" stroke-width="0.55" textLength="70.8" lengthAdjust="spacing">1N4001</text><text transform="translate(896.8,489.0) scale(0.88,1)" x="0" y="0" font-family="Liberation Sans" font-size="17" fill="#1e1e1e" stroke="#1e1e1e" stroke-width="0.55" textLength="26.9" lengthAdjust="spacing">R5</text><text transform="translate(899.2,514.3) scale(0.88,1)" x="0" y="0" font-family="Liberation Sans" font-size="17" fill="#1e1e1e" stroke="#1e1e1e" stroke-width="0.55" textLength="44.8" lengthAdjust="spacing">100Ω</text><text transform="translate(1239.3,272.6) scale(0.88,1)" x="0" y="0" font-family="Liberation Sans" font-size="17" fill="#1e1e1e" stroke="#1e1e1e" stroke-width="0.55" textLength="24.2" lengthAdjust="spacing">R8</text><text transform="translate(1240.0,314.4) scale(0.88,1)" x="0" y="0" font-family="Liberation Sans" font-size="17" fill="#1e1e1e" stroke="#1e1e1e" stroke-width="0.55" textLength="55.7" lengthAdjust="spacing">3,3kΩ</text><text transform="translate(1336.0,252.0) scale(0.88,1)" x="0" y="0" font-family="Liberation Sans" font-size="17" fill="#1e1e1e" stroke="#1e1e1e" stroke-width="0.55" textLength="20.5" lengthAdjust="spacing">C1</text><text transform="translate(1325.7,277.6) scale(0.88,1)" x="0" y="0" font-family="Liberation Sans" font-size="17" fill="#1e1e1e" stroke="#1e1e1e" stroke-width="0.55" textLength="50.2" lengthAdjust="spacing">0,1μF</text><text transform="translate(1418.2,245.2) scale(0.88,1)" x="0" y="0" font-family="Liberation Sans" font-size="17" fill="#1e1e1e" stroke="#1e1e1e" stroke-width="0.55" textLength="79.3" lengthAdjust="spacing">Alim 5 V</text><text transform="translate(1264.2,407.9) scale(0.88,1)" x="0" y="0" font-family="Liberation Sans" font-size="17" fill="#1e1e1e" stroke="#1e1e1e" stroke-width="0.55" textLength="11.1" lengthAdjust="spacing">2</text><text transform="translate(1306.0,407.9) scale(0.88,1)" x="0" y="0" font-family="Liberation Sans" font-size="17" fill="#1e1e1e" stroke="#1e1e1e" stroke-width="0.55" textLength="11.4" lengthAdjust="spacing">6</text><text transform="translate(1341.5,407.9) scale(0.88,1)" x="0" y="0" font-family="Liberation Sans" font-size="17" fill="#1e1e1e" stroke="#1e1e1e" stroke-width="0.55" textLength="11.4" lengthAdjust="spacing">4</text><text transform="translate(1384.0,407.9) scale(0.88,1)" x="0" y="0" font-family="Liberation Sans" font-size="17" fill="#1e1e1e" stroke="#1e1e1e" stroke-width="0.55" textLength="11.4" lengthAdjust="spacing">8</text><text transform="translate(1238.0,429.2) scale(0.88,1)" x="0" y="0" font-family="Liberation Sans" font-size="17" fill="#1e1e1e" stroke="#1e1e1e" stroke-width="0.55" textLength="11.4" lengthAdjust="spacing">7</text><text transform="translate(1408.5,429.0) scale(0.88,1)" x="0" y="0" font-family="Liberation Sans" font-size="17" fill="#1e1e1e" stroke="#1e1e1e" stroke-width="0.55" textLength="10.8" lengthAdjust="spacing">3</text><text transform="translate(1265.7,489.1) scale(0.88,1)" x="0" y="0" font-family="Liberation Sans" font-size="17" fill="#1e1e1e" stroke="#1e1e1e" stroke-width="0.55" textLength="7.2" lengthAdjust="spacing">1</text><text transform="translate(1383.3,489.1) scale(0.88,1)" x="0" y="0" font-family="Liberation Sans" font-size="17" fill="#1e1e1e" stroke="#1e1e1e" stroke-width="0.55" textLength="11.0" lengthAdjust="spacing">5</text><text transform="translate(1339.1,525.4) scale(0.88,1)" x="0" y="0" font-family="Liberation Sans" font-size="17" fill="#1e1e1e" stroke="#1e1e1e" stroke-width="0.55" textLength="23.3" lengthAdjust="spacing">C2</text><text transform="translate(1330.4,547.5) scale(0.88,1)" x="0" y="0" font-family="Liberation Sans" font-size="17" fill="#1e1e1e" stroke="#1e1e1e" stroke-width="0.55" textLength="39.4" lengthAdjust="spacing">10nF</text><text transform="translate(1444.9,392.5) scale(0.88,1)" x="0" y="0" font-family="Liberation Sans" font-size="17" fill="#1e1e1e" stroke="#1e1e1e" stroke-width="0.55" textLength="22.7" lengthAdjust="spacing">C3</text><text transform="translate(1432.2,457.4) scale(0.88,1)" x="0" y="0" font-family="Liberation Sans" font-size="17" fill="#1e1e1e" stroke="#1e1e1e" stroke-width="0.55" textLength="42.0" lengthAdjust="spacing">33μF</text><text transform="translate(1513.5,478.0) scale(0.88,1)" x="0" y="0" font-family="Liberation Sans" font-size="17" fill="#1e1e1e" stroke="#1e1e1e" stroke-width="0.55" textLength="26.1" lengthAdjust="spacing">HP</text><text transform="translate(1510.4,503.5) scale(0.88,1)" x="0" y="0" font-family="Liberation Sans" font-size="17" fill="#1e1e1e" stroke="#1e1e1e" stroke-width="0.55" textLength="47.6" lengthAdjust="spacing">100Ω</text><line x1="1481.3" y1="205.8" x2="1489.8" y2="205.8" stroke="#1e1e1e" stroke-width="2" stroke-linecap="round"/><line x1="1485.5" y1="201.6" x2="1485.5" y2="210.0" stroke="#1e1e1e" stroke-width="2" stroke-linecap="round"/><line x1="1485.0" y1="270.1" x2="1492.8" y2="270.1" stroke="#1e1e1e" stroke-width="2" stroke-linecap="round"/><line x1="1435.2" y1="408.2" x2="1443.1" y2="408.2" stroke="#1e1e1e" stroke-width="2" stroke-linecap="round"/><line x1="1439.1" y1="404.3" x2="1439.1" y2="412.1" stroke="#1e1e1e" stroke-width="2" stroke-linecap="round"/><line x1="1470.4" y1="407.0" x2="1477.1" y2="407.0" stroke="#1e1e1e" stroke-width="2" stroke-linecap="round"/><text transform="translate(788.5,237.3) scale(0.8,1)" x="0" y="0" font-family="Liberation Sans" font-size="27" fill="#1e1e1e" stroke="#1e1e1e" stroke-width="1.3" textLength="42.0" lengthAdjust="spacing">Q2</text><text transform="translate(757.5,263.7) scale(0.95,1)" x="0" y="0" font-family="Liberation Sans" font-size="27" fill="#1e1e1e" stroke="#1e1e1e" stroke-width="1.3" textLength="109.3" lengthAdjust="spacing">2N3904</text><text transform="translate(737.4,402.9) scale(0.95,1)" x="0" y="0" font-family="Liberation Sans" font-size="27" fill="#1e1e1e" stroke="#1e1e1e" stroke-width="1.3" textLength="104.9" lengthAdjust="spacing">2N3904</text><text transform="translate(750.6,504.5) scale(0.78,1)" x="0" y="0" font-family="Liberation Sans" font-size="27" fill="#1e1e1e" stroke="#1e1e1e" stroke-width="1.3" textLength="38.6" lengthAdjust="spacing">Q1</text><text transform="translate(1176.2,252.0) scale(0.95,1)" x="0" y="0" font-family="Liberation Sans" font-size="27" fill="#1e1e1e" stroke="#1e1e1e" stroke-width="1.3" textLength="112.1" lengthAdjust="spacing">2N3906</text><text transform="translate(1163.6,283.6) scale(0.8,1)" x="0" y="0" font-family="Liberation Sans" font-size="27" fill="#1e1e1e" stroke="#1e1e1e" stroke-width="1.3" textLength="40.5" lengthAdjust="spacing">Q3</text><text transform="translate(1300.4,456.0) scale(0.95,1)" x="0" y="0" font-family="Liberation Sans" font-size="26" fill="#1e1e1e" stroke="#1e1e1e" stroke-width="1.3" textLength="50.7" lengthAdjust="spacing">555</text><text x="585.7" y="621.7" font-family="Liberation Sans" font-size="23" font-weight="bold" fill="#1e1e1e" textLength="72.4" lengthAdjust="spacingAndGlyphs">Fig. 11</text>
<text x="1443" y="2163.5" font-family="Liberation Sans" font-weight="bold" font-size="17" fill="#1c1c1c" textLength="173" lengthAdjust="spacingAndGlyphs">N<tspan font-size="12" dy="-5">o</tspan><tspan dy="5"> 1604 - Page 139</tspan></text>
</svg>
<div class="ln" style="left:51.0px;top:754.3px;word-spacing:2.822px;">On a utilisé dans cet appa-</div>
<div class="ln" style="left:23.0px;top:786.3px;word-spacing:15.901px;">reil trois transistors : deux</div>
<div class="ln" style="left:23.0px;top:818.4px;word-spacing:4.086px;">NPN du type 2N 3904 et un</div>
<div class="ln" style="left:23.0px;top:850.4px;word-spacing:4.787px;">PNP du type 2N 3906, deux</div>
<div class="ln" style="left:23.0px;top:882.5px;word-spacing:3.744px;">diodes 1N 4001 et un circuit</div>
<div class="ln" style="left:23.0px;top:914.5px;word-spacing:-2.747px;">intégré 555, bien connu par ses</div>
<div class="ln" style="left:23.0px;top:946.5px;word-spacing:17.901px;">applications dans tous les</div>
<div class="ln" style="left:23.0px;top:978.6px;word-spacing:13.562px;">domaines de l’électronique.</div>
<div class="ln" style="left:23.0px;top:1010.6px;word-spacing:3.793px;">Le composant le plus impor-</div>
<div class="ln" style="left:23.0px;top:1042.7px;word-spacing:1.596px;">tant en volume et poids est le</div>
<div class="ln" style="left:23.0px;top:1074.7px;word-spacing:-1.766px;">haut-parleur qui doit avoir une</div>
<div class="ln" style="left:23.0px;top:1106.7px;word-spacing:5.266px;">résistance de 100 <i>Ω</i>. Si cette</div>
<div class="ln" style="left:23.0px;top:1138.8px;word-spacing:18.500px;">résistance est inférieure à</div>
<div class="ln" style="left:23.0px;top:1170.8px;word-spacing:-1.800px;">100 <i>Ω</i> (mais pas trop) on mon-</div>
<div class="ln" style="left:23.0px;top:1202.9px;word-spacing:9.500px;">tera en série une résistance</div>
<div class="ln" style="left:23.0px;top:1234.9px;word-spacing:4.912px;">d’appoint. Si elle est un peu</div>
<div class="ln" style="left:23.0px;top:1266.9px;word-spacing:4.426px;">supérieure à 100 <i>Ω</i>, on mon-</div>
<div class="ln" style="left:23.0px;top:1299.0px;word-spacing:6.172px;">tera une résistance en paral-</div>
<div class="ln" style="left:23.0px;top:1331.0px;word-spacing:2.550px;">lèle de façon à obtenir 100 <i>Ω</i></div>
<div class="ln" style="left:23.0px;top:1363.1px;">comme prévu.</div>
<div class="ln" style="left:51.0px;top:1395.1px;word-spacing:4.941px;">Exemple 1 : le H.P. est de</div>
<div class="ln" style="left:23.0px;top:1427.1px;word-spacing:2.312px;">70 <i>Ω</i>. La résistance-série sera</div>
<div class="ln" style="left:23.0px;top:1459.2px;">de 30 <i>Ω</i>.</div>
<div class="ln" style="left:51.0px;top:1491.2px;word-spacing:4.941px;">Exemple 2 : le H.P. est de</div>
<div class="ln" style="left:23.0px;top:1523.3px;word-spacing:19.680px;">150 <i>Ω</i>. La résistance-shunt</div>
<div class="ln" style="left:23.0px;top:1555.3px;word-spacing:-1.475px;">sera R<sub>p</sub> donnée par la relation :</div>
<div class="ln" style="left:23.0px;top:1681.2px;">ce qui donne,</div>
<div class="ln" style="left:51.0px;top:1808.1px;word-spacing:4.258px;">Toutes les valeurs des élé-</div>
<div class="ln" style="left:23.0px;top:1840.1px;word-spacing:9.887px;">ments actifs et passifs sont</div>
<div class="ln" style="left:23.0px;top:1872.2px;word-spacing:1.756px;">indiquées sur le schéma de la</div>
<div class="ln" style="left:23.0px;top:1904.2px;">figure 11.</div>
<div class="ln" style="left:51.0px;top:1936.3px;word-spacing:-2.109px;">Partons de la pointe d’essais</div>
<div class="ln" style="left:23.0px;top:1968.3px;word-spacing:10.754px;">représentée à la gauche du</div>
<div class="ln" style="left:23.0px;top:2000.3px;word-spacing:0.931px;">schéma. La pointe est reliée à</div>
<div class="ln" style="left:23.0px;top:2032.4px;word-spacing:2.922px;">deux résistances R<sub>1</sub> de 47 k<i>Ω</i></div>
<div class="ln" style="left:23.0px;top:2064.4px;word-spacing:1.828px;">et R<sub>2</sub> de 27 k<i>Ω</i> constituant un</div>
<div class="ln" style="left:23.0px;top:2096.5px;word-spacing:8.020px;">diviseur de tension. La ten-</div>
<div class="ln" style="left:435.0px;top:751.3px;word-spacing:4.406px;">sion au point X, commun de</div>
<div class="ln" style="left:434.9px;top:783.3px;word-spacing:7.424px;">R<sub>1</sub> et R<sub>2</sub> est de 1,5 V. Cette</div>
<div class="ln" style="left:434.8px;top:815.4px;word-spacing:0.192px;">tension est transmise par R<sub>3</sub> et</div>
<div class="ln" style="left:434.8px;top:847.4px;word-spacing:2.470px;">R<sub>4</sub> aux bases de Q<sub>1</sub> et Q<sub>2</sub> res-</div>
<div class="ln" style="left:434.7px;top:879.5px;">pectivement.</div>
<div class="ln" style="left:462.6px;top:911.5px;word-spacing:-0.915px;">Grâce à R<sub>3</sub>, la base de Q<sub>1</sub> est</div>
<div class="ln" style="left:434.5px;top:943.5px;word-spacing:1.546px;">polarisée de manière à ce que</div>
<div class="ln" style="left:434.4px;top:975.6px;word-spacing:6.150px;">ce transistor soit conducteur.</div>
<div class="ln" style="left:434.3px;top:1007.6px;word-spacing:2.851px;">Il en résulte un courant élevé</div>
<div class="ln" style="left:434.3px;top:1039.7px;word-spacing:15.857px;">de collecteur et une forte</div>
<div class="ln" style="left:434.2px;top:1071.7px;word-spacing:6.444px;">chute de tension dans R<sub>7</sub> de</div>
<div class="ln" style="left:434.1px;top:1103.7px;word-spacing:-1.854px;">27 k<i>Ω</i>. De ce fait, la tension du</div>
<div class="ln" style="left:434.0px;top:1135.8px;word-spacing:0.777px;">collecteur de Q<sub>1</sub> est proche de</div>
<div class="ln" style="left:433.9px;top:1167.8px;word-spacing:3.646px;">celle de la masse (zéro volt).</div>
<div class="ln" style="left:461.8px;top:1199.9px;word-spacing:2.810px;">La diode D<sub>1</sub> est alors pola-</div>
<div class="ln" style="left:433.8px;top:1231.9px;word-spacing:10.782px;">risée en sens inverse et se</div>
<div class="ln" style="left:433.7px;top:1263.9px;word-spacing:8.448px;">trouve ainsi à l’état bloqué.</div>
<div class="ln" style="left:433.6px;top:1296.0px;word-spacing:7.413px;">Aucun courant ne passe par</div>
<div class="ln" style="left:433.5px;top:1328.0px;word-spacing:1.873px;">D<sub>1</sub> vers le circuit intégré 555.</div>
<div class="ln" style="left:461.4px;top:1360.1px;word-spacing:14.498px;">Le transistor Q<sub>1</sub> est par</div>
<div class="ln" style="left:433.3px;top:1392.1px;word-spacing:12.052px;">conséquent, le détecteur de</div>
<div class="ln" style="left:433.3px;top:1424.1px;word-spacing:20.113px;">niveau bas (<b>&lt;</b> 0,8 V) de</div>
<div class="ln" style="left:433.2px;top:1456.2px;">l’entrée.</div>
<div class="ln" style="left:461.1px;top:1488.2px;word-spacing:3.275px;">Si le circuit en essais est à</div>
<div class="ln" style="left:433.0px;top:1520.3px;word-spacing:3.389px;">une tension correspondant au</div>
<div class="ln" style="left:432.9px;top:1552.3px;word-spacing:5.841px;">niveau bas, le point X com-</div>
<div class="ln" style="left:432.8px;top:1584.3px;word-spacing:0.481px;">mun de R<sub>1</sub> et R<sub>2</sub> est à une ten-</div>
<div class="ln" style="left:432.8px;top:1616.4px;word-spacing:11.671px;">sion inférieure à celle « à</div>
<div class="ln" style="left:432.7px;top:1648.4px;word-spacing:19.556px;">vide », c’est-à-dire 1,5 V.</div>
<div class="ln" style="left:432.6px;top:1680.5px;word-spacing:15.166px;">Cette tension est alors de</div>
<div class="ln" style="left:432.5px;top:1712.5px;">0,5 V environ.</div>
<div class="ln" style="left:460.4px;top:1744.5px;word-spacing:18.292px;">Dans ces conditions Q<sub>1</sub></div>
<div class="ln" style="left:432.3px;top:1776.6px;word-spacing:-0.479px;">cesse d’être conducteur, c’est-</div>
<div class="ln" style="left:432.3px;top:1808.6px;word-spacing:2.439px;">à-dire se bloque. Il en résulte</div>
<div class="ln" style="left:432.2px;top:1840.7px;word-spacing:0.959px;">un courant nul ou négligeable</div>
<div class="ln" style="left:432.1px;top:1872.7px;word-spacing:6.571px;">de collecteur. Ce dernier est</div>
<div class="ln" style="left:432.0px;top:1904.7px;word-spacing:1.063px;">alors à + 5 V environ par rap-</div>
<div class="ln" style="left:431.9px;top:1936.8px;word-spacing:4.399px;">port à la masse. C’est égale-</div>
<div class="ln" style="left:431.8px;top:1968.8px;word-spacing:2.562px;">ment la tension à laquelle est</div>
<div class="ln" style="left:431.8px;top:2000.9px;word-spacing:2.179px;">portée l’anode de la diode D<sub>1</sub></div>
<div class="ln" style="left:431.7px;top:2032.9px;word-spacing:1.742px;">qui devient alors conductrice,</div>
<div class="ln" style="left:431.6px;top:2064.9px;word-spacing:8.777px;">étant polarisée dans le sens</div>
<div class="ln" style="left:431.5px;top:2097.0px;word-spacing:7.328px;">direct. Le courant passe par</div>
<div class="ln" style="left:846.3px;top:753.1px;word-spacing:1.984px;">D<sub>1</sub> vers le point 7 du 555. Ce</div>
<div class="ln" style="left:846.2px;top:785.1px;word-spacing:8.538px;">circuit intégré est monté en</div>
<div class="ln" style="left:846.2px;top:817.2px;word-spacing:-3.372px;">multivibrateur astable, c’est-à-</div>
<div class="ln" style="left:846.1px;top:849.2px;word-spacing:11.903px;">dire oscillant librement. La</div>
<div class="ln" style="left:846.1px;top:881.3px;word-spacing:-3.852px;">fréquence d’oscillation choisie</div>
<div class="ln" style="left:846.0px;top:913.3px;word-spacing:-1.286px;">est basse dans la bande « audi-</div>
<div class="ln" style="left:845.9px;top:945.3px;">ble ».</div>
<div class="ln" style="left:873.9px;top:977.4px;word-spacing:0.968px;">Le point 7 du 555 étant ali-</div>
<div class="ln" style="left:845.8px;top:1009.4px;word-spacing:6.977px;">menté, l’oscillation se fait à</div>
<div class="ln" style="left:845.8px;top:1041.5px;word-spacing:5.325px;">une fréquence très basse. Le</div>
<div class="ln" style="left:845.7px;top:1073.5px;word-spacing:-0.119px;">signal est transmis au H.P. par</div>
<div class="ln" style="left:845.6px;top:1105.5px;word-spacing:6.619px;">C<sub>3</sub> de 33 <i>μ</i>F électrochimique</div>
<div class="ln" style="left:845.6px;top:1137.6px;word-spacing:11.314px;">(ou autre valeur proche de</div>
<div class="ln" style="left:845.5px;top:1169.6px;word-spacing:-2.916px;">33 <i>μ</i>F ou supérieure à celle-ci).</div>
<div class="ln" style="left:845.5px;top:1201.7px;word-spacing:-0.406px;">Un son grave est émis. Il indi-</div>
<div class="ln" style="left:845.4px;top:1233.7px;word-spacing:-0.539px;">que le niveau bas sur la pointe</div>
<div class="ln" style="left:845.3px;top:1265.7px;word-spacing:3.017px;">de touche, en contact avec le</div>
<div class="ln" style="left:845.3px;top:1297.8px;word-spacing:4.791px;">point de l’appareil en essais.</div>
<div class="ln" style="left:873.2px;top:1329.8px;word-spacing:15.340px;">Passons maintenant à la</div>
<div class="ln" style="left:845.2px;top:1361.9px;word-spacing:7.477px;">voie de détection du niveau</div>
<div class="ln" style="left:845.1px;top:1393.9px;word-spacing:8.832px;">haut, c’est-à-dire de tension</div>
<div class="ln" style="left:845.1px;top:1425.9px;">supérieure à 2 V.</div>
<div class="ln" style="left:873.0px;top:1458.0px;word-spacing:3.784px;">On partira encore du point</div>
<div class="ln" style="left:844.9px;top:1490.0px;word-spacing:1.211px;">X, commun de R<sub>1</sub>, R<sub>2</sub> et de la</div>
<div class="ln" style="left:844.9px;top:1522.1px;word-spacing:-1.120px;">pointe d’essais. La voie consi-</div>
<div class="ln" style="left:844.8px;top:1554.1px;word-spacing:0.566px;">dérée est celle passant par Q<sub>2</sub>,</div>
<div class="ln" style="left:844.8px;top:1586.1px;word-spacing:-1.510px;">Q<sub>3</sub>, D<sub>2</sub> et le circuit intégré 555.</div>
<div class="ln" style="left:872.7px;top:1618.2px;word-spacing:3.930px;">L’émetteur de ce transistor</div>
<div class="ln" style="left:844.6px;top:1650.2px;word-spacing:10.358px;">est à une tension de 1,6 V</div>
<div class="ln" style="left:844.6px;top:1682.3px;word-spacing:2.985px;">environ, grâce au diviseur de</div>
<div class="ln" style="left:844.5px;top:1714.3px;word-spacing:1.514px;">tension R<sub>5</sub> – R<sub>6</sub>. Si le point X</div>
<div class="ln" style="left:844.5px;top:1746.3px;word-spacing:-1.646px;">est à un niveau bas, la jonction</div>
<div class="ln" style="left:844.4px;top:1778.4px;word-spacing:1.878px;">base-émetteur de Q<sub>2</sub> est pola-</div>
<div class="ln" style="left:844.3px;top:1810.4px;word-spacing:2.090px;">risée en sens inverse et il n’y</div>
<div class="ln" style="left:844.3px;top:1842.5px;word-spacing:-0.480px;">a pas de courant de collecteur.</div>
<div class="ln" style="left:844.2px;top:1874.5px;word-spacing:0.322px;">La voie est alors bloquée vers</div>
<div class="ln" style="left:844.2px;top:1906.5px;word-spacing:0.133px;">le 555 et c’est l’autre voie qui</div>
<div class="ln" style="left:844.1px;top:1938.6px;word-spacing:-1.039px;">agit sur le 555 comme indiqué</div>
<div class="ln" style="left:844.0px;top:1970.6px;">plus haut.</div>
<div class="ln" style="left:872.0px;top:2002.7px;word-spacing:3.138px;">Si maintenant le niveau de</div>
<div class="ln" style="left:843.9px;top:2034.7px;word-spacing:4.680px;">X est haut (<b>&gt;</b> 2 V), Q<sub>2</sub> com-</div>
<div class="ln" style="left:843.9px;top:2066.7px;word-spacing:2.222px;">mence à être conducteur vers</div>
<div class="ln" style="left:843.8px;top:2098.8px;word-spacing:-1.021px;">2,3 V. Dans ce cas, R<sub>9</sub> polarise</div>
<div class="ln" style="left:1260.5px;top:756.8px;word-spacing:11.984px;">la base de Q<sub>3</sub> qui devient</div>
<div class="ln" style="left:1260.4px;top:788.8px;">conductrice.</div>
<div class="ln" style="left:1288.3px;top:822.5px;word-spacing:22.646px;">D’autre part, le signal</div>
<div class="ln" style="left:1260.2px;top:854.5px;word-spacing:2.150px;">d’entrée de niveau haut, rend</div>
<div class="ln" style="left:1260.1px;top:886.6px;word-spacing:-0.155px;">Q<sub>1</sub> conducteur, D<sub>1</sub> est bloquée</div>
<div class="ln" style="left:1260.1px;top:918.6px;word-spacing:4.923px;">et il n’y a pas de son à fré-</div>
<div class="ln" style="left:1260.0px;top:950.2px;">quence très basse.</div>
<div class="ln" style="left:1287.9px;top:986.5px;word-spacing:1.888px;">Le transistor PNP, Q<sub>3</sub> four-</div>
<div class="ln" style="left:1259.8px;top:1018.3px;word-spacing:5.370px;">nit un courant qui passe par</div>
<div class="ln" style="left:1259.7px;top:1050.3px;word-spacing:7.109px;">R<sub>11</sub> de 1 k<i>Ω</i> et la diode D<sub>2</sub>.</div>
<div class="ln" style="left:1287.6px;top:1084.5px;word-spacing:4.167px;">Comme R<sub>11</sub> est plus faible</div>
<div class="ln" style="left:1259.5px;top:1116.5px;word-spacing:0.271px;">que R<sub>7</sub> (1 k<i>Ω</i> contre 27 k<i>Ω</i>) le</div>
<div class="ln" style="left:1259.4px;top:1148.5px;word-spacing:3.027px;">courant fourni au 555 par Q<sub>3</sub></div>
<div class="ln" style="left:1259.3px;top:1180.6px;word-spacing:-1.472px;">est plus élevé et le circuit inté-</div>
<div class="ln" style="left:1259.2px;top:1212.6px;word-spacing:4.822px;">gré, monté en multivibrateur</div>
<div class="ln" style="left:1259.2px;top:1244.7px;word-spacing:14.692px;">astable, oscille à une fré-</div>
<div class="ln" style="left:1259.1px;top:1276.7px;word-spacing:1.985px;">quence élevée (son aigu dans</div>
<div class="ln" style="left:1259.0px;top:1309.0px;">le haut-parleur).</div>
<div class="ln" style="left:1286.9px;top:1342.5px;word-spacing:4.511px;">L’appareil peut être monté</div>
<div class="ln" style="left:1258.8px;top:1374.4px;word-spacing:3.430px;">sur une platine imprimée, ou</div>
<div class="ln" style="left:1258.7px;top:1406.4px;word-spacing:17.350px;">sur une plaquette isolante</div>
<div class="ln" style="left:1258.6px;top:1438.3px;word-spacing:-2.729px;">avec des connexions par fils. Il</div>
<div class="ln" style="left:1258.5px;top:1470.3px;word-spacing:12.412px;">est possible de réaliser un</div>
<div class="ln" style="left:1258.5px;top:1502.4px;word-spacing:12.946px;">montage de faibles dimen-</div>
<div class="ln" style="left:1258.4px;top:1534.4px;word-spacing:9.702px;">sions, par exemple sur une</div>
<div class="ln" style="left:1258.3px;top:1566.5px;word-spacing:5.392px;">platine de 35 x 80 mm. Elle</div>
<div class="ln" style="left:1258.2px;top:1598.5px;word-spacing:-1.220px;">sera fixée dans un boîtier avec</div>
<div class="ln" style="left:1258.1px;top:1630.6px;word-spacing:3.913px;">des fils de sortie : deux pour</div>
<div class="ln" style="left:1258.0px;top:1662.7px;word-spacing:7.855px;">l’alimentation et un pour la</div>
<div class="ln" style="left:1257.9px;top:1694.8px;">pointe d’essais.</div>
<div class="ln" style="left:1285.8px;top:1728.5px;word-spacing:0.839px;">Si le H.P. est de très petites</div>
<div class="ln" style="left:1257.7px;top:1761.6px;word-spacing:-1.384px;">dimensions, il doit être aisé de</div>
<div class="ln" style="left:1257.6px;top:1794.0px;">le placer dans le boîtier.</div>
<div class="ln hd" style="left:1257.5px;top:1835.0px;word-spacing:-1.018px;">Essais de l’appareil - sonde :</div>
<div class="ln" style="left:1285.4px;top:1878.2px;word-spacing:0.903px;">Pour vérifier le fonctionne-</div>
<div class="ln" style="left:1257.3px;top:1910.3px;word-spacing:0.989px;">ment de cet appareil et, éven-</div>
<div class="ln" style="left:1257.2px;top:1942.4px;word-spacing:31.480px;">tuellement, effectuer des</div>
<div class="ln" style="left:1257.2px;top:1974.5px;word-spacing:-1.364px;">retouches de mise au point, on</div>
<div class="ln" style="left:1257.1px;top:2006.5px;word-spacing:4.995px;">devra disposer d’une pile de</div>
<div class="ln" style="left:1257.0px;top:2038.6px;word-spacing:3.624px;">5 V et d’un potentiomètre de</div>
<div class="ln" style="left:1256.9px;top:2070.7px;">1 000 <i>Ω</i>.</div>
<div class="ln" style="left:1284.8px;top:2102.6px;word-spacing:2.167px;">On réalisera le montage de</div>
<div class="ln" style="left:92.0px;top:1619.0px;word-spacing:4.078px;">100 =</div>
<div class="ln" style="left:186.0px;top:1602.8px;word-spacing:3.992px;">150 . R<sub>p</sub></div>
<div class="ln" style="left:178.0px;top:1635.0px;word-spacing:6.531px;">R<sub>p</sub> + 150</div>
<div class="rule" style="left:175.6px;top:1637px;width:124.6px;height:2.2px"></div>
<div class="ln" style="left:50.0px;top:1746.0px;word-spacing:14.062px;">R<sub>p</sub> =</div>
<div class="ln" style="left:124.5px;top:1729.7px;word-spacing:1.000px;">150 . 100</div>
<div class="fm" style="left:159.5px;top:1762.0px;">50</div>
<div class="rule" style="left:126px;top:1763px;width:114px;height:2.2px"></div>
<div class="ln" style="left:250.0px;top:1746.0px;word-spacing:6.766px;">= 300 Ω</div>
</div>
</body></html>
